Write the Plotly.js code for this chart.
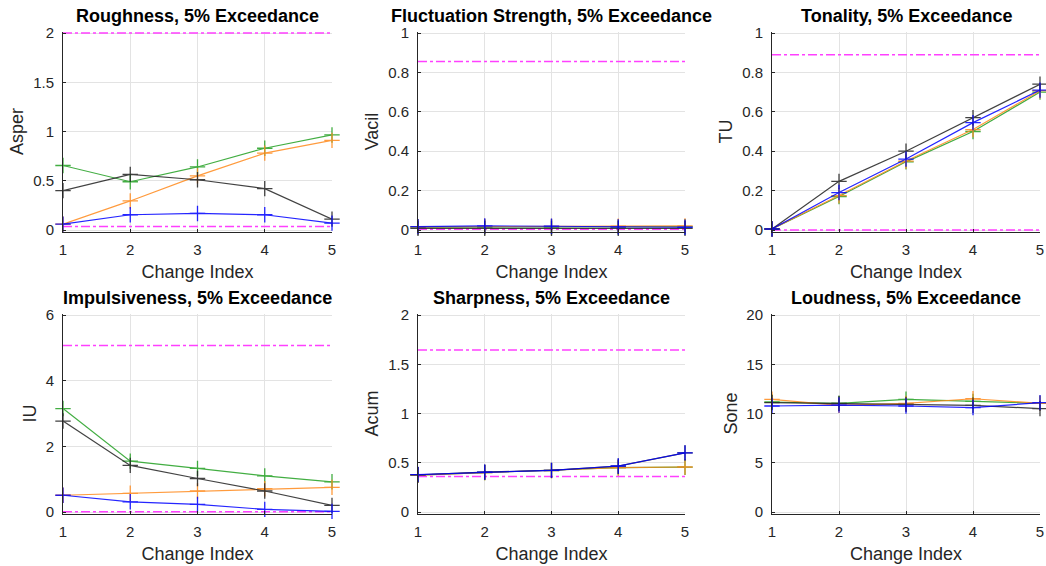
<!DOCTYPE html>
<html>
<head>
<meta charset="utf-8">
<script src="https://cdn.plot.ly/plotly-3.0.1.min.js"></script>
<style>html,body{margin:0;padding:0;background:#fff;}#chart{width:1046px;height:566px;}</style>
</head>
<body>
<div id="chart"></div>
<script>
// Change index categories
const changeIndex = [1, 2, 3, 4, 5];

// Roughness (asper)
const roughGreen  = [0.655, 0.49, 0.64, 0.83, 0.965];
const roughOrange = [0.06, 0.295, 0.55, 0.78, 0.91];
const roughBlack  = [0.40, 0.565, 0.51, 0.42, 0.11];
const roughBlue   = [0.06, 0.155, 0.168, 0.155, 0.07];
const roughLimits = [2.0, 0.035];

// Fluctuation strength (vacil)
const fluctGreen  = [0.015, 0.016, 0.016, 0.016, 0.017];
const fluctOrange = [0.016, 0.018, 0.018, 0.019, 0.021];
const fluctBlack  = [0.008, 0.008, 0.008, 0.008, 0.008];
const fluctBlue   = [0.017, 0.021, 0.019, 0.016, 0.014];
const fluctLimits = [0.855, 0.004];

// Tonality (tu)
const tonGreen  = [0.005, 0.17, 0.346, 0.50, 0.70];
const tonOrange = [0.005, 0.175, 0.35, 0.51, 0.707];
const tonBlack  = [0.005, 0.247, 0.40, 0.57, 0.74];
const tonBlue   = [0.005, 0.19, 0.36, 0.545, 0.71];
const tonLimits = [0.89, 0.0];

// Impulsiveness (iu)
const impGreen  = [3.15, 1.55, 1.33, 1.10, 0.92];
const impOrange = [0.51, 0.57, 0.64, 0.71, 0.75];
const impBlack  = [2.77, 1.42, 1.02, 0.64, 0.20];
const impBlue   = [0.51, 0.31, 0.23, 0.08, 0.02];
const impLimits = [5.07, 0.01];

// Sharpness (acum)
const sharpGreen  = [0.375, 0.40, 0.42, 0.45, 0.455];
const sharpOrange = [0.375, 0.40, 0.42, 0.45, 0.457];
const sharpBlack  = [0.378, 0.405, 0.423, 0.465, 0.60];
const sharpBlue   = [0.38, 0.405, 0.423, 0.467, 0.60];
const sharpLimits = [1.645, 0.36];

// Loudness (sone)
const loudGreen  = [11.17, 11.03, 11.44, 11.23, 11.03];
const loudOrange = [11.44, 10.83, 11.03, 11.5, 11.03];
const loudBlack  = [11.1, 11.03, 10.93, 10.83, 10.49];
const loudBlue   = [10.76, 10.86, 10.76, 10.6, 11.1];
const loudLimits = [];

const titles = ["Roughness, 5% Exceedance", "Fluctuation Strength, 5% Exceedance", "Tonality, 5% Exceedance",
                "Impulsiveness, 5% Exceedance", "Sharpness, 5% Exceedance", "Loudness, 5% Exceedance"];
const yTitles = ["Asper", "Vacil", "TU", "IU", "Acum", "Sone"];
const yRanges = [[0, 2], [0, 1], [0, 1], [0, 6], [0, 2], [0, 20]];
const yTicks = [[0, 0.5, 1, 1.5, 2], [0, 0.2, 0.4, 0.6, 0.8, 1], [0, 0.2, 0.4, 0.6, 0.8, 1],
                [0, 2, 4, 6], [0, 0.5, 1, 1.5, 2], [0, 5, 10, 15, 20]];

const panels = [
  [roughGreen, roughOrange, roughBlack, roughBlue, roughLimits],
  [fluctGreen, fluctOrange, fluctBlack, fluctBlue, fluctLimits],
  [tonGreen, tonOrange, tonBlack, tonBlue, tonLimits],
  [impGreen, impOrange, impBlack, impBlue, impLimits],
  [sharpGreen, sharpOrange, sharpBlack, sharpBlue, sharpLimits],
  [loudGreen, loudOrange, loudBlack, loudBlue, loudLimits]
];

const colors = ["#22a022", "#ff8a1c", "#222222", "#0000ff"];
const W = 1046, H = 566;
const xPix = [[63, 332], [418, 685], [772, 1040]];
const yPix = [[33, 230], [315, 512]];
const PAD = 1.5; // px of headroom so edge lines are not clipped

const traces = [];
const layout = {
  width: W, height: H,
  margin: {l: 0, r: 0, t: 0, b: 0},
  paper_bgcolor: "#fff", plot_bgcolor: "#fff",
  showlegend: false,
  font: {family: "Liberation Sans, Arial, sans-serif", color: "#262626"},
  annotations: []
};

panels.forEach((p, i) => {
  const n = i + 1;
  const xa = "x" + (n === 1 ? "" : n), ya = "y" + (n === 1 ? "" : n);
  const col = i % 3, row = Math.floor(i / 3);
  // reference limit lines
  p[4].forEach(v => {
    traces.push({x: [changeIndex[0], changeIndex[changeIndex.length - 1]], y: [v, v], xaxis: xa, yaxis: ya,
      mode: "lines", cliponaxis: false, line: {color: "#ff40ff", width: 1.5, dash: "dashdot"}, hoverinfo: "skip"});
  });
  for (let s = 0; s < 4; s++) {
    traces.push({x: changeIndex, y: p[s], xaxis: xa, yaxis: ya, mode: "lines+markers",
      opacity: 0.85, cliponaxis: false,
      line: {color: colors[s], width: 1.2},
      marker: {symbol: "cross-thin-open", size: 11, line: {color: colors[s], width: 1.3}}});
  }
  const y0 = yPix[row][0] - PAD, y1 = yPix[row][1] + PAD;
  const upp = (yRanges[i][1] - yRanges[i][0]) / (yPix[row][1] - yPix[row][0]);
  const xd = [xPix[col][0] / W, xPix[col][1] / W];
  const yd = [(H - y1) / H, (H - y0) / H];
  layout["xaxis" + (n === 1 ? "" : n)] = {
    domain: xd, anchor: ya, range: [1, 5], tickvals: changeIndex, ticks: "inside", ticklen: 3,
    tickcolor: "#262626", showline: true, linecolor: "#262626", linewidth: 1, ticklabelstandoff: 4,
    showgrid: true, gridcolor: "#e3e3e3", zeroline: false, tickfont: {size: 15, color: "#262626"},
    title: {text: "Change Index", font: {size: 18, color: "#262626"}, standoff: 8}
  };
  layout["yaxis" + (n === 1 ? "" : n)] = {
    domain: yd, anchor: xa, range: [yRanges[i][0] - PAD * upp, yRanges[i][1] + PAD * upp],
    tickvals: yTicks[i], ticks: "inside", ticklen: 3,
    tickcolor: "#262626", showline: true, linecolor: "#262626", linewidth: 1, ticklabelstandoff: 5,
    showgrid: true, gridcolor: "#e3e3e3", zeroline: false, tickfont: {size: 15, color: "#262626"},
    title: {text: yTitles[i], font: {size: 18, color: "#262626"}, standoff: 4}
  };
  layout.annotations.push({
    text: "<b>" + titles[i] + "</b>", xref: "paper", yref: "paper",
    x: (xd[0] + xd[1]) / 2, y: (H - yPix[row][0]) / H, xanchor: "center", yanchor: "bottom", yshift: 5,
    showarrow: false, font: {size: 18, color: "#000"}
  });
});

Plotly.newPlot("chart", traces, layout, {displayModeBar: false, staticPlot: true});
</script>
</body>
</html>
